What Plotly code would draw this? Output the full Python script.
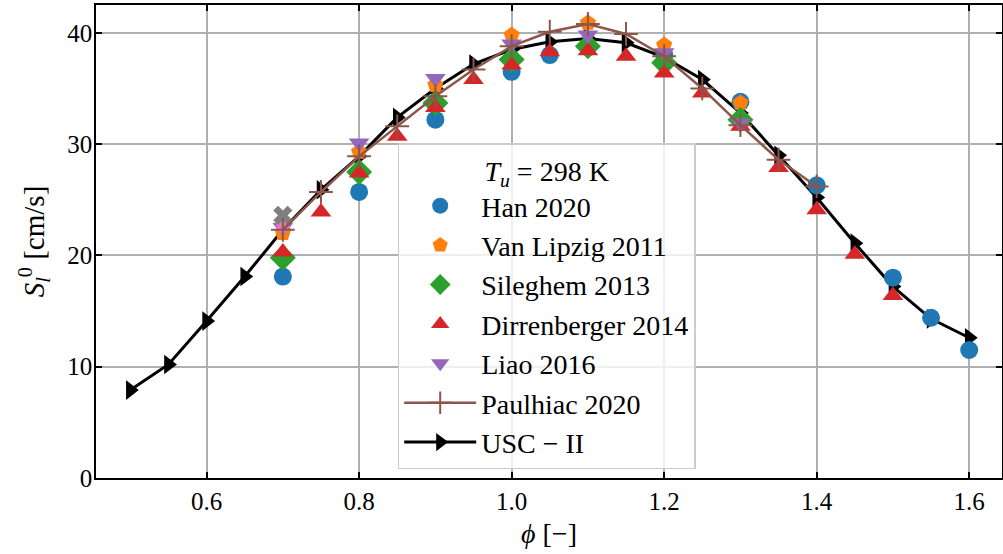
import plotly.graph_objects as go

# ---- data ----
usc_phi = [0.5, 0.55, 0.6, 0.65, 0.7, 0.75, 0.8, 0.85, 0.9, 0.95, 1.0, 1.05, 1.1, 1.15,
           1.2, 1.25, 1.3, 1.35, 1.4, 1.45, 1.5, 1.55, 1.6]
usc_sl = [7.9, 10.2, 14.1, 18.1, 22.3, 25.9, 28.9, 32.4, 35.0, 37.2, 38.5, 39.2, 39.5, 39.1,
          37.8, 35.8, 32.8, 29.0, 25.2, 21.1, 17.2, 14.3, 12.6]

paul_phi = [0.7, 0.75, 0.8, 0.85, 0.9, 0.95, 1.0, 1.05, 1.1, 1.15, 1.2, 1.25, 1.3, 1.35, 1.4]
paul_sl = [22.3, 25.7, 28.9, 31.6, 34.3, 36.7, 38.8, 40.1, 40.8, 39.9, 37.9, 35.0, 31.7, 28.6, 26.2]

han_phi = [0.7, 0.8, 0.9, 1.0, 1.05, 1.2, 1.3, 1.4, 1.5, 1.55, 1.6]
han_sl = [18.1, 25.7, 32.2, 36.5, 38.0, 38.0, 33.8, 26.3, 18.0, 14.4, 11.5]

vl_phi = [0.7, 0.8, 0.9, 1.0, 1.1, 1.2, 1.3]
vl_sl = [22.0, 29.3, 35.3, 39.8, 40.9, 38.9, 33.7]

sil_phi = [0.7, 0.8, 0.9, 1.0, 1.1, 1.2, 1.3]
sil_sl = [19.8, 27.5, 33.7, 37.6, 38.8, 37.3, 32.2]

dir_phi = [0.7, 0.75, 0.8, 0.85, 0.9, 0.95, 1.0, 1.05, 1.1, 1.15, 1.2, 1.25, 1.3, 1.35,
           1.4, 1.45, 1.5]
dir_sl = [20.3, 23.9, 27.4, 30.7, 33.3, 35.8, 37.1, 38.3, 38.4, 37.9, 36.4, 34.6, 31.6, 27.9,
          24.1, 20.1, 16.4]

liao_phi = [0.7, 0.8, 0.9, 1.0, 1.1, 1.2, 1.3]
liao_sl = [22.5, 30.1, 35.9, 39.0, 39.8, 38.2, 31.9]

extra1_phi = [0.7]
extra1_sl = [22.6]
extra2_phi = [0.7]
extra2_sl = [23.6]

fig = go.Figure()

fig.add_trace(go.Scatter(x=usc_phi, y=usc_sl, mode="lines+markers", name="USC \u2212 II",
                         line=dict(color="black", width=3),
                         marker=dict(symbol="triangle-right", size=17, color="black"),
                         legendrank=7, legendgroup="g7"))
fig.add_trace(go.Scatter(x=han_phi, y=han_sl, mode="markers", name="Han 2020",
                         marker=dict(symbol="circle", size=18, color="#1f77b4"),
                         legendrank=1, legendgroup="g1"))
fig.add_trace(go.Scatter(x=vl_phi, y=vl_sl, mode="markers", name="Van Lipzig 2011",
                         marker=dict(symbol="pentagon", size=17, color="#ff7f0e"),
                         legendrank=2, legendgroup="g2"))
fig.add_trace(go.Scatter(x=sil_phi, y=sil_sl, mode="markers", name="Sileghem 2013",
                         marker=dict(symbol="diamond", size=20, color="#2ca02c"),
                         legendrank=3, legendgroup="g3"))
fig.add_trace(go.Scatter(x=dir_phi, y=dir_sl, mode="markers", name="Dirrenberger 2014",
                         marker=dict(symbol="triangle-up", size=18, color="#d62728"),
                         legendrank=4, legendgroup="g4"))
fig.add_trace(go.Scatter(x=liao_phi, y=liao_sl, mode="markers", name="Liao 2016",
                         marker=dict(symbol="triangle-down", size=18, color="#9467bd"),
                         legendrank=5, legendgroup="g5"))
fig.add_trace(go.Scatter(x=extra1_phi, y=extra1_sl, mode="markers", showlegend=False,
                         marker=dict(symbol="hexagon", size=15, color="#e377c2")))
fig.add_trace(go.Scatter(x=extra2_phi, y=extra2_sl, mode="markers", showlegend=False,
                         marker=dict(symbol="x", size=17, color="#7f7f7f")))
fig.add_trace(go.Scatter(x=paul_phi, y=paul_sl, mode="lines+markers", name="Paulhiac 2020",
                         line=dict(color="#8c564b", width=2.5),
                         marker=dict(symbol="cross-thin-open", size=17, color="#8c564b",
                                     line=dict(color="#8c564b", width=2)),
                         legendrank=6, legendgroup="g6"))

font_family = "Liberation Serif, DejaVu Serif, serif"

axis_common = dict(
    showline=True, linecolor="black", linewidth=1.5, mirror="ticks",
    ticks="inside", ticklen=6, tickwidth=1.5, tickcolor="black",
    showgrid=True, gridcolor="#b0b0b0", gridwidth=1.5, zeroline=False,
    tickfont=dict(family=font_family, size=25, color="black"),
    automargin=False,
)

fig.update_xaxes(range=[0.455, 1.643], tickvals=[0.6, 0.8, 1.0, 1.2, 1.4, 1.6],
                 ticktext=["0.6", "0.8", "1.0", "1.2", "1.4", "1.6"],
                 ticklabelstandoff=0,
                 title=dict(text="<i>\u03d5</i> [\u2212]", font=dict(family=font_family, size=28, color="black"),
                            standoff=10),
                 **axis_common)
fig.update_yaxes(range=[0, 42.5], tickvals=[0, 10, 20, 30, 40],
                 ticklabelstandoff=-3,
                 title=dict(text="<i>S</i><sub><i>l</i></sub><sup>0</sup> [cm/s]",
                            font=dict(family=font_family, size=29, color="black"), standoff=14),
                 **axis_common)

fig.update_layout(
    width=1003, height=554,
    margin=dict(l=96, r=1, t=5, b=76),
    paper_bgcolor="white", plot_bgcolor="white",
    font=dict(family=font_family, size=24, color="black"),
    legend=dict(
        x=0.333, y=0.708, xanchor="left", yanchor="top",
        bgcolor="rgba(255,255,255,0.8)", bordercolor="#cccccc", borderwidth=1.5,
        font=dict(family=font_family, size=28, color="black"),
        title=dict(text="<i>T</i><sub><i>u</i></sub> = 298 K", side="top center",
                   font=dict(family=font_family, size=28, color="black")),
        traceorder="grouped", tracegroupgap=0, itemwidth=72,
    ),
    showlegend=True,
)

fig.write_html("out.html", config={"displayModeBar": False},
               post_script="document.body.style.margin='0';")
